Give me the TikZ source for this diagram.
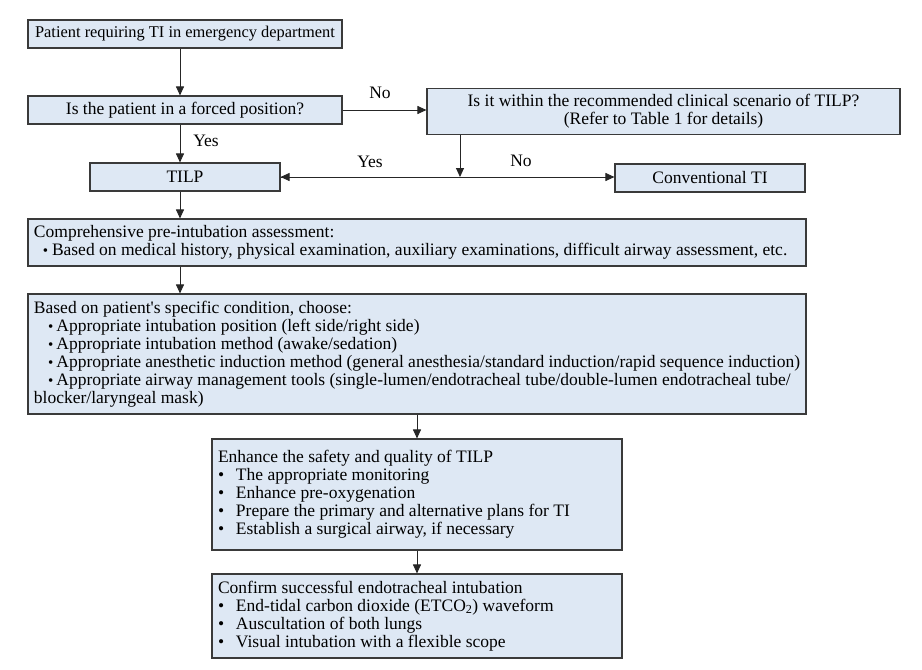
\documentclass[tikz,border=0pt]{standalone}
\usepackage{fontspec}
\setmainfont{Liberation Serif}
\usetikzlibrary{arrows.meta}
\definecolor{boxfill}{HTML}{DEE8F4}
\definecolor{boxborder}{HTML}{3A3A3A}
\newcommand\fsz{\fontsize{17.5}{18}\selectfont}
\newcommand\fsy{\fontsize{16.4}{18}\selectfont}
\newcommand\bul[1]{\makebox[#1][l]{{\fontsize{15}{18}\selectfont\textbullet}}}
\newcommand\bigbul[1]{\makebox[#1][l]{\textbullet}}
\begin{document}
\begin{tikzpicture}[x=1pt,y=-1pt,
  box/.style={draw=boxborder, fill=boxfill, line width=1.1pt, inner xsep=6pt, inner ysep=0pt, font=\fsz},
  lbl/.style={font=\fsz, inner sep=1pt},
  arr/.style={line width=0.9pt, draw=black!85, -{Triangle[length=9pt,width=8pt]}},
  ln/.style={line width=0.9pt, draw=black!85}]
\useasboundingbox[fill=white] (0,0) rectangle (922,670);
\coordinate (ax) at (180,0);
\coordinate (bx) at (460,0);
\node[box, minimum width=314pt, minimum height=28pt, align=center, font=\fsy] (b1) at (185,34) {Patient requiring TI in emergency department};
\node[box, minimum width=314pt, minimum height=28pt, align=center] (b2) at (185,110) {Is the patient in a forced position?};
\node[box, minimum width=473pt, minimum height=46pt, align=center] (b3) at (663.5,111.5) {Is it within the recommended clinical scenario of TILP?\\(Refer to Table 1 for details)};
\node[box, minimum width=190pt, minimum height=28pt, align=center] (tilp) at (185,177) {TILP};
\node[box, minimum width=190pt, minimum height=28pt, align=center] (conv) at (710,178) {Conventional TI};
\node[box, minimum width=778pt, minimum height=47pt, text width=766pt, align=flush left] (assess) at (417,242.5) {Comprehensive pre-intubation assessment:\\\hspace*{9pt}\bul{9pt}Based on medical history, physical examination, auxiliary examinations, difficult airway assessment, etc.};
\node[box, minimum width=778pt, minimum height=120pt, text width=766pt, align=flush left] (choose) at (417,354) {Based on patient\textquotesingle s specific condition, choose:\\
\hspace*{14pt}\bul{8.5pt}Appropriate intubation position (left side/right side)\\
\hspace*{14pt}\bul{8.5pt}Appropriate intubation method (awake/sedation)\\
\hspace*{14pt}\bul{8.5pt}Appropriate anesthetic induction method (general anesthesia/standard induction/rapid sequence induction)\\
\hspace*{14pt}\bul{8.5pt}Appropriate airway management tools (single-lumen/endotracheal tube/double-lumen endotracheal tube/\\
blocker/laryngeal mask)};
\node[box, minimum width=410pt, minimum height=111pt, text width=398pt, align=flush left] (enh) at (417,494.5) {Enhance the safety and quality of TILP\\
\bigbul{18pt}The appropriate monitoring\\
\bigbul{18pt}Enhance pre-oxygenation\\
\bigbul{18pt}Prepare the primary and alternative plans for TI\\
\bigbul{18pt}Establish a surgical airway, if necessary};
\node[box, minimum width=410pt, minimum height=84pt, text width=398pt, align=flush left] (conf) at (417,616) {Confirm successful endotracheal intubation\\
\bigbul{18pt}End-tidal carbon dioxide (ETCO\textsubscript{2}) waveform\\
\bigbul{18pt}Auscultation of both lungs\\
\bigbul{18pt}Visual intubation with a flexible scope};
% connectors
\draw[arr] (b1.south -| ax) -- (b2.north -| ax);
\draw[arr] (b2.south -| ax) -- (tilp.north -| ax);
\node[lbl] (yes1) at (206,141) {Yes};
\draw[arr] (b2.east) -- (b2.east -| b3.west);
\node[lbl] (no1) at (380,93) {No};
\coordinate (jn) at (460,177);
\draw[arr] (b3.south -| bx) -- (jn);
\draw[ln] (tilp.east) -- (jn);
\draw[arr] (jn) -- (tilp.east);
\draw[arr] (jn) -- (conv.west |- jn);
\node[lbl] (yes2) at (370,162) {Yes};
\node[lbl] (no2) at (521,161) {No};
\draw[arr] (tilp.south -| ax) -- (assess.north -| ax);
\draw[arr] (assess.south -| ax) -- (choose.north -| ax);
\draw[arr] (choose.south) -- (enh.north);
\draw[arr] (enh.south) -- (conf.north);
\end{tikzpicture}
\end{document}
